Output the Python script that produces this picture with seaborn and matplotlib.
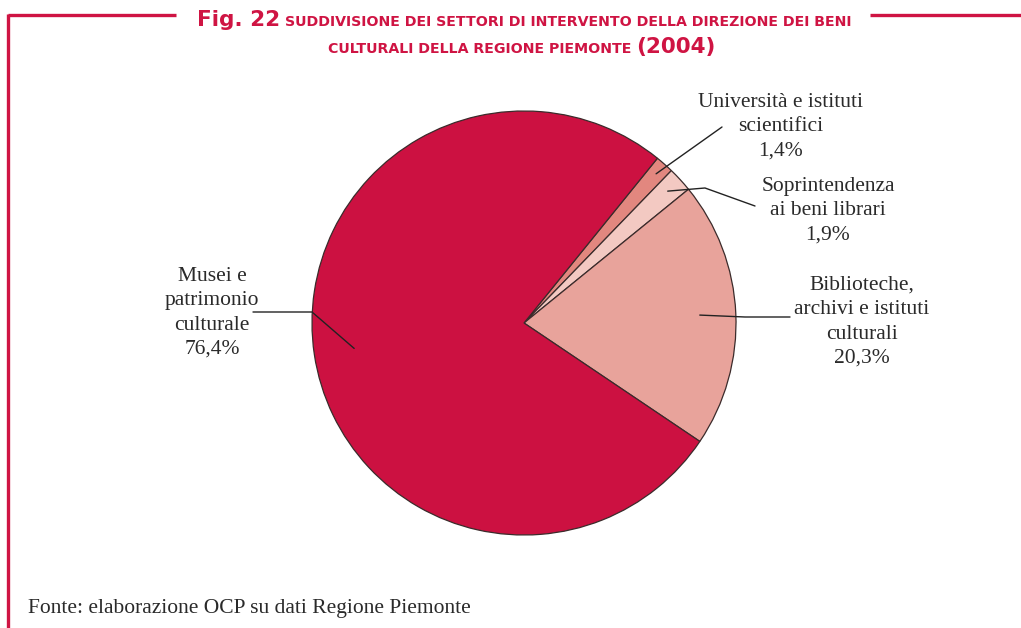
import numpy as np
import matplotlib
matplotlib.use("Agg")
import matplotlib.pyplot as plt
import seaborn as sns

# dati (percentuali)
settori = ["Università e istituti\nscientifici", "Soprintendenza\nai beni librari",
           "Biblioteche,\narchivi e istituti\nculturali", "Musei e\npatrimonio\nculturale"]
valori = [1.4, 1.9, 20.3, 76.4]
etichette_pct = ["1,4%", "1,9%", "20,3%", "76,4%"]
colori = ["#E2877F", "#F3C9C2", "#E8A39B", "#CC1141"]

sns.set_theme(style="white")
plt.rcParams["font.family"] = ["Liberation Serif", "DejaVu Serif"]

W, H = 1021, 628
ROSSO = "#CF1443"
fig = plt.figure(figsize=(W / 100, H / 100), dpi=100)
ax = fig.add_axes([0, 0, 1, 1])

def Y(py):
    return H - py

cx, cy, R = 524, 323, 212
wedges, _ = ax.pie(valori, colors=sns.color_palette(colori), startangle=51, counterclock=False,
                   center=(cx, Y(cy)), radius=R, frame=True,
                   wedgeprops=dict(edgecolor="#3b2b2b", linewidth=0.9))
ax.set_xlim(0, W)
ax.set_ylim(0, H)
ax.axis("off")

# linee guida: (frazione raggio, punti intermedi, posizione testo)
guide = [
    (0.94, [(722, 127)], (781, 93)),
    (0.92, [(705, 188), (755, 206)], (828, 177)),
    (0.83, [(745, 317), (790, 317)], (862, 276)),
    (0.81, [(312, 312), (253, 312)], (212, 267)),
]
for w, (fr, pts, (tx, ty)), nome, pct in zip(wedges, guide, settori, etichette_pct):
    ang = np.deg2rad((w.theta1 + w.theta2) / 2)
    x0 = cx + fr * R * np.cos(ang)
    y0 = Y(cy) + fr * R * np.sin(ang)
    xs = [x0] + [p[0] for p in pts]
    ys = [y0] + [Y(p[1]) for p in pts]
    ax.plot(xs, ys, color="#222222", lw=1.0)
    ax.text(tx, Y(ty), nome + "\n" + pct, ha="center", va="top", fontsize=15.5,
            color="#2a2a2a", linespacing=1.38)

# cornice
ax.plot([8, 176], [Y(15), Y(15)], color=ROSSO, lw=2.4, solid_capstyle="butt")
ax.plot([870, W], [Y(15), Y(15)], color=ROSSO, lw=2.4, solid_capstyle="butt")
ax.plot([8, 8], [Y(14), 0], color=ROSSO, lw=2.4, solid_capstyle="butt")

# titolo
tf = ["DejaVu Sans"]
fig.canvas.draw()
rend = fig.canvas.get_renderer()

def riga(parti, y, xc):
    testi = []
    for s, fs in parti:
        t = ax.text(0, Y(y), s, fontsize=fs, fontweight="bold", color=ROSSO,
                    family=tf, ha="left", va="baseline")
        testi.append(t)
    larg = [t.get_window_extent(rend).width for t in testi]
    gap = 5
    x = xc - (sum(larg) + gap * (len(larg) - 1)) / 2
    for t, l in zip(testi, larg):
        t.set_x(x)
        x += l + gap

riga([("Fig. 22", 15.5), ("SUDDIVISIONE DEI SETTORI DI INTERVENTO DELLA DIREZIONE DEI BENI", 10.2)], 26, 524)
riga([("CULTURALI DELLA REGIONE PIEMONTE", 10.2), ("(2004)", 15.5)], 53, 522)

ax.text(28, Y(608), "Fonte: elaborazione OCP su dati Regione Piemonte", fontsize=15.5,
        color="#2a2a2a", va="center", ha="left")

fig.savefig("out.png", dpi=100)
